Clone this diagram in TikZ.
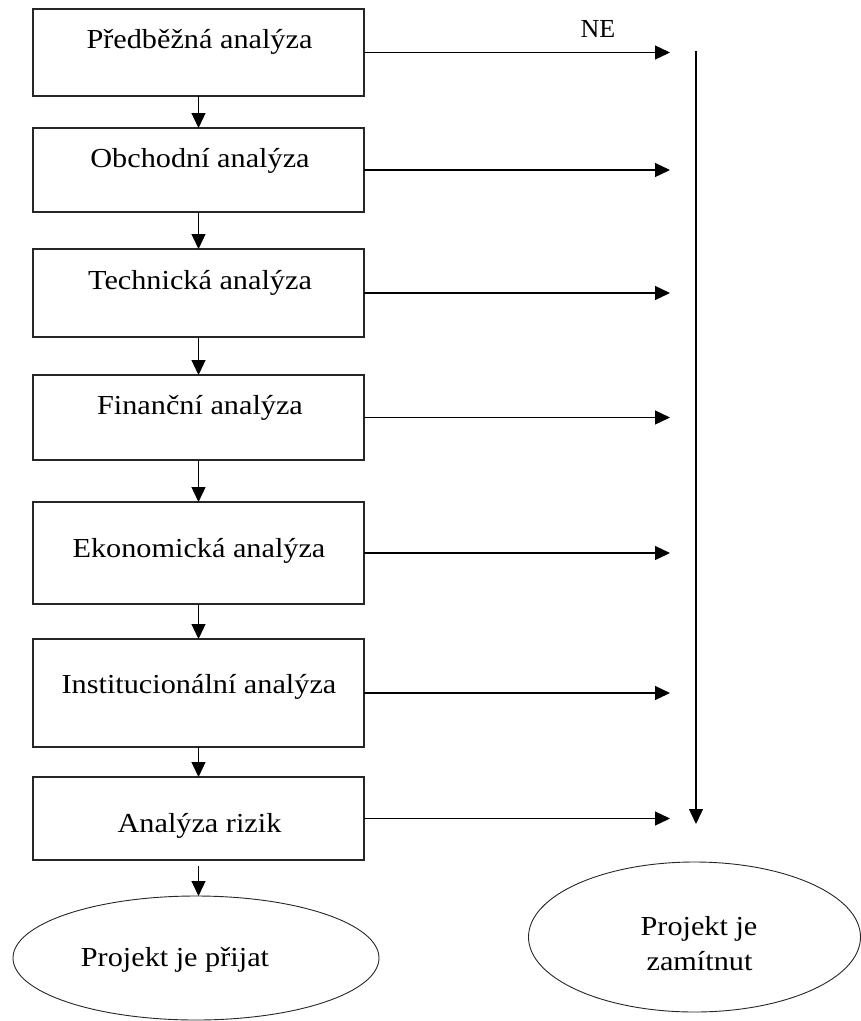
\documentclass[tikz,border=0pt]{standalone}
\usepackage{fontspec}
\setmainfont{Liberation Serif}
\newfontfamily\boxfont[FakeStretch=1.1]{Liberation Serif}
\usetikzlibrary{arrows.meta,shapes.geometric}
\tikzset{
  stepbox/.style={draw=black!85, line width=1.3pt, rectangle, inner sep=0pt, outer sep=0pt, minimum width=331pt},
  endoval/.style={draw=black!85, line width=0.9pt, ellipse, inner sep=0pt, outer sep=0pt},
  lbl/.style={anchor=base, inner sep=0pt, font=\boxfont\fontsize{27.5}{35}\selectfont},
  arr/.style={line width=1.3pt, -{Triangle[length=15pt,width=14pt]}},
}
\begin{document}
\begin{tikzpicture}[x=1pt,y=-1pt]
\useasboundingbox (0,0) rectangle (861,1021);
% boxes
\node[stepbox, minimum height=87pt] (b1) at (198.5,52.5) {};
\node[stepbox, minimum height=84pt] (b2) at (198.5,170) {};
\node[stepbox, minimum height=88pt] (b3) at (198.5,293) {};
\node[stepbox, minimum height=85pt] (b4) at (198.5,417.5) {};
\node[stepbox, minimum height=102pt] (b5) at (198.5,553) {};
\node[stepbox, minimum height=108pt] (b6) at (198.5,693) {};
\node[stepbox, minimum height=83pt] (b7) at (198.5,818.5) {};
% box texts
\node[lbl] (t1) at (199.5,48) {Předběžná analýza};
\node[lbl] (t2) at (200,167) {Obchodní analýza};
\node[lbl] (t3) at (200,289) {Technická analýza};
\node[lbl] (t4) at (200,414) {Finanční analýza};
\node[lbl] (t5) at (199,557) {Ekonomická analýza};
\node[lbl] (t6) at (199,693) {Institucionální analýza};
\node[lbl] (t7) at (199.5,832) {Analýza rizik};
% ellipses
\node[endoval, minimum width=366pt, minimum height=124pt] (acc) at (196,958) {};
\node[lbl] (tacc) at (175,966) {Projekt je přijat};
\node[endoval, minimum width=332pt, minimum height=150pt] (rej) at (694.5,937) {};
\node[lbl] (trej1) at (699,935) {Projekt je};
\node[lbl] (trej2) at (699.5,970) {zamítnut};
% NE label
\node[anchor=base, inner sep=0pt, font=\fontsize{26}{30}\selectfont] (ne) at (598,37) {NE};
% vertical arrows between boxes
\draw[arr] (b1.south) -- (b2.north);
\draw[arr] (b2.south) -- (b3.north);
\draw[arr] (b3.south) -- (b4.north);
\draw[arr] (b4.south) -- (b5.north);
\draw[arr] (b5.south) -- (b6.north);
\draw[arr] (b6.south) -- (b7.north);
\coordinate (b7s) at ([yshift=-6pt]b7.south);
\draw[arr] (b7s) -- (b7s |- acc.north);
% horizontal arrows to the right
\coordinate (r) at (670,0);
\draw[arr] (b1.east) -- (b1.east -| r);
\draw[arr] (b2.east) -- (b2.east -| r);
\draw[arr] (b3.east) -- (b3.east -| r);
\draw[arr] (b4.east) -- (b4.east -| r);
\draw[arr] (b5.east) -- (b5.east -| r);
\draw[arr] (b6.east) -- (b6.east -| r);
\draw[arr] (b7.east) -- (b7.east -| r);
% vertical collector line
\coordinate (vtop) at (696,51);
\coordinate (vbot) at (696,824);
\draw[arr] (vtop) -- (vbot);
\end{tikzpicture}
\end{document}
